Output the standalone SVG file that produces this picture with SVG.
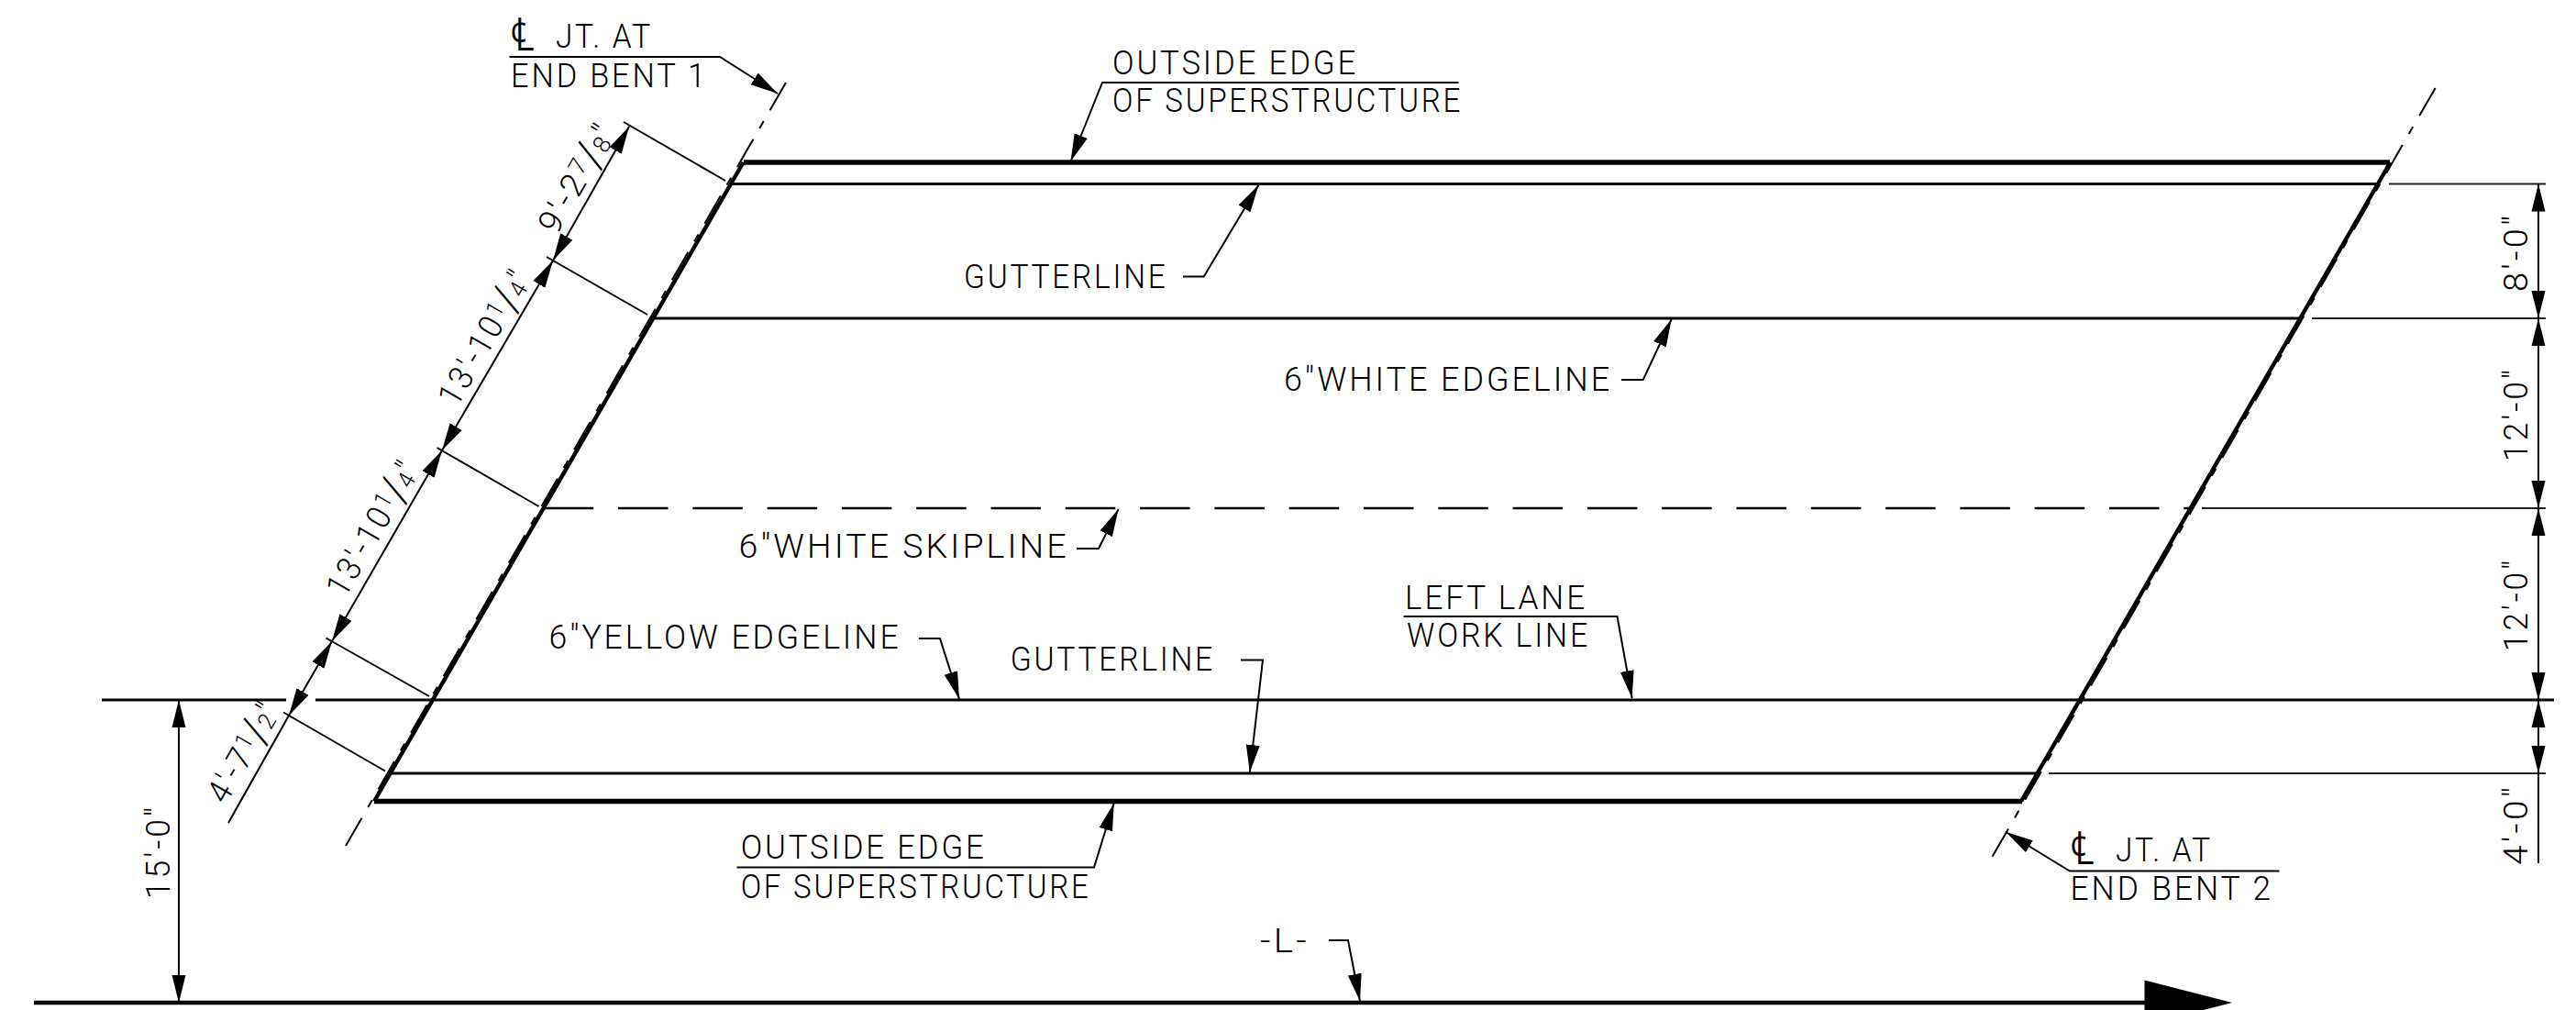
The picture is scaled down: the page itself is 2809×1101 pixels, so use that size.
<svg xmlns="http://www.w3.org/2000/svg" width="2809" height="1101" viewBox="0 0 2809 1101">
<style>
text{font-family:"Roboto","Liberation Sans",sans-serif;font-weight:300;font-size:36.5px;letter-spacing:3px;fill:#000}
.cl{font-family:"DejaVu Sans",sans-serif;font-weight:200;font-size:50px;letter-spacing:0}
.f{font-size:26px;letter-spacing:0}
.s{font-size:48px;letter-spacing:0}
line,polyline,path.l{fill:none;stroke:#000}
.t5{stroke-width:5.5}
.t3{stroke-width:3.2}
.t4{stroke-width:4.4}
.t2{stroke-width:2}
.ext{stroke-width:2.2;stroke:#222}
.ld{stroke-width:2;marker-end:url(#a)}
.dm{stroke-width:2;marker-start:url(#a);marker-end:url(#a)}
.sk{stroke-width:2.6;stroke-dasharray:54.5 26.8}
.ctr{stroke-width:2}
</style>
<defs>
<marker id="a" markerUnits="userSpaceOnUse" markerWidth="30" markerHeight="16" refX="24" refY="6" orient="auto-start-reverse" viewBox="0 0 24 12"><path d="M0,0 L24,6 L0,12 Z" fill="#000"/></marker>
</defs>

<g id="roadway">
<line class="t5" x1="811" y1="177" x2="2606" y2="177"/>
<line class="t3" x1="796" y1="200.5" x2="2595" y2="200.5"/>
<line class="t3" x1="711" y1="347" x2="2510" y2="347"/>
<line class="sk" x1="592.7" y1="554" x2="2390" y2="554"/>
<line class="t3" x1="111" y1="763" x2="312" y2="763"/>
<line class="t3" x1="344" y1="763" x2="2785" y2="763"/>
<line class="t3" x1="426" y1="843" x2="2222" y2="843"/>
<line class="t5" x1="408" y1="873.5" x2="2205" y2="873.5"/>
<line class="t4" x1="810.5" y1="177" x2="408" y2="873.5"/>
<line class="t4" x1="2606.5" y1="177" x2="2204" y2="873.5"/>
<line class="ctr" stroke-dasharray="35 13.6 9 13.6" x1="857" y1="90" x2="377" y2="922"/>
<line class="ctr" stroke-dasharray="35 13.85 9 13.85" x1="2655.6" y1="96" x2="2172.4" y2="934"/>
</g>

<g id="alignment">
<line class="t4" x1="37" y1="1093" x2="2340" y2="1093"/>
<path d="M2338.5,1068.5 L2434,1093 L2338.5,1117.5 Z" fill="#000"/>
</g>

<g id="connectors">
<line class="ext" x1="2605" y1="200.5" x2="2776" y2="200.5"/>
<line class="ext" x1="2521" y1="347" x2="2776" y2="347"/>
<line class="ext" x1="2401" y1="554" x2="2776" y2="554"/>
<line class="ext" x1="2234" y1="843" x2="2776" y2="843"/>
<line class="dm" x1="2768" y1="200.5" x2="2768" y2="347"/>
<line class="dm" x1="2768" y1="347" x2="2768" y2="554"/>
<line class="dm" x1="2768" y1="554" x2="2768" y2="763"/>
<line class="dm" x1="2768" y1="763" x2="2768" y2="843"/>
<line class="t2" x1="2768" y1="843" x2="2768" y2="941"/>
<line class="dm" x1="195" y1="763" x2="195" y2="1093"/>

<line class="t2" x1="680" y1="133" x2="791" y2="197"/>
<line class="t2" x1="596" y1="280" x2="706" y2="343"/>
<line class="t2" x1="476.5" y1="488" x2="587.5" y2="552"/>
<line class="t2" x1="355.5" y1="695.5" x2="468" y2="759"/>
<line class="t2" x1="309" y1="776.5" x2="420" y2="840.5"/>
<line class="dm" x1="686" y1="138" x2="603" y2="284"/>
<line class="dm" x1="603" y1="284" x2="482" y2="491"/>
<line class="dm" x1="482" y1="491" x2="362" y2="699"/>
<line class="dm" x1="362" y1="699" x2="315" y2="780"/>
<line class="t2" x1="315" y1="780" x2="249" y2="897"/>

<polyline class="ld" points="555.5,62 785,62 848,102"/>
<polyline class="ld" points="1590.5,90 1202,90 1167.5,176"/>
<polyline class="ld" points="1290,301.5 1312.7,301.5 1372.4,201.7"/>
<polyline class="ld" points="1768,414 1791.7,414 1822.7,348"/>
<polyline class="ld" points="1174,598 1198,598 1219.6,555"/>
<polyline class="ld" points="1002,696 1025,696 1046,762"/>
<polyline class="ld" points="1353,719.6 1377,719.6 1362.8,842"/>
<polyline class="ld" points="1530.5,672 1763.5,672 1779.6,761"/>
<polyline class="ld" points="803.5,945.5 1193,945.5 1214.7,875.5"/>
<polyline class="ld" points="1449,1025 1470,1025 1483,1091.5"/>
<polyline class="ld" points="2485.5,949.6 2257,949.6 2187.3,907"/>
</g>

<g id="label-cl-1"><text x="557" y="52"><tspan class="cl" dy="3" textLength="26" lengthAdjust="spacingAndGlyphs">℄</tspan><tspan x="595" dy="-3" textLength="117" lengthAdjust="spacingAndGlyphs"> JT. AT</tspan></text></g>
<g id="label-end-bent-1"><text x="557" y="95" textLength="215" lengthAdjust="spacingAndGlyphs">END BENT 1</text></g>
<g id="label-outside-top"><text x="1213" y="81" textLength="268" lengthAdjust="spacingAndGlyphs">OUTSIDE EDGE</text><text x="1213" y="122" textLength="382" lengthAdjust="spacingAndGlyphs">OF SUPERSTRUCTURE</text></g>
<g id="label-gutter-top"><text x="1051" y="314" textLength="222.5" lengthAdjust="spacingAndGlyphs">GUTTERLINE</text></g>
<g id="label-white-edge"><text x="1400" y="426" textLength="358" lengthAdjust="spacingAndGlyphs">6"WHITE EDGELINE</text></g>
<g id="label-skip"><text x="805.6" y="608" textLength="360" lengthAdjust="spacingAndGlyphs">6"WHITE SKIPLINE</text></g>
<g id="label-yellow"><text x="598.6" y="707" textLength="384" lengthAdjust="spacingAndGlyphs">6"YELLOW EDGELINE</text></g>
<g id="label-gutter-bottom"><text x="1101.7" y="731" textLength="223.3" lengthAdjust="spacingAndGlyphs">GUTTERLINE</text></g>
<g id="label-work-line"><text x="1532" y="663.5" textLength="199" lengthAdjust="spacingAndGlyphs">LEFT LANE</text><text x="1534" y="705" textLength="200" lengthAdjust="spacingAndGlyphs">WORK LINE</text></g>
<g id="label-outside-bottom"><text x="807.7" y="936" textLength="268" lengthAdjust="spacingAndGlyphs">OUTSIDE EDGE</text><text x="807.7" y="978.5" textLength="382" lengthAdjust="spacingAndGlyphs">OF SUPERSTRUCTURE</text></g>
<g id="label-l"><text x="1374" y="1038" textLength="54" lengthAdjust="spacingAndGlyphs">-L-</text></g>
<g id="label-cl-2"><text x="2258" y="939"><tspan class="cl" dy="3" textLength="26" lengthAdjust="spacingAndGlyphs">℄</tspan><tspan x="2296" dy="-3" textLength="117" lengthAdjust="spacingAndGlyphs"> JT. AT</tspan></text></g>
<g id="label-end-bent-2"><text x="2257.5" y="981" textLength="221.5" lengthAdjust="spacingAndGlyphs">END BENT 2</text></g>

<g id="dim-8ft"><text transform="translate(2756,318) rotate(-90)" textLength="86" lengthAdjust="spacingAndGlyphs">8'-0"</text></g>
<g id="dim-12ft-a"><text transform="translate(2756,503) rotate(-90)" textLength="103" lengthAdjust="spacingAndGlyphs">12'-0"</text></g>
<g id="dim-12ft-b"><text transform="translate(2756,710) rotate(-90)" textLength="102" lengthAdjust="spacingAndGlyphs">12'-0"</text></g>
<g id="dim-4ft"><text transform="translate(2756,943) rotate(-90)" textLength="88" lengthAdjust="spacingAndGlyphs">4'-0"</text></g>
<g id="dim-15ft"><text transform="translate(185,980) rotate(-90)" textLength="103" lengthAdjust="spacingAndGlyphs">15'-0"</text></g>

<g id="dim-skew-1"><text transform="translate(607,257) rotate(-60)" textLength="132" lengthAdjust="spacingAndGlyphs">9'-2<tspan class="f" dy="-9">7</tspan><tspan class="s" dy="13">/</tspan><tspan class="f" dy="-2">8</tspan><tspan dy="-2">"</tspan></text></g>
<g id="dim-skew-2"><text transform="translate(498,445) rotate(-60)" textLength="165" lengthAdjust="spacingAndGlyphs">13'-10<tspan class="f" dy="-9">1</tspan><tspan class="s" dy="13">/</tspan><tspan class="f" dy="-2">4</tspan><tspan dy="-2">"</tspan></text></g>
<g id="dim-skew-3"><text transform="translate(376,653) rotate(-60)" textLength="165" lengthAdjust="spacingAndGlyphs">13'-10<tspan class="f" dy="-9">1</tspan><tspan class="s" dy="13">/</tspan><tspan class="f" dy="-2">4</tspan><tspan dy="-2">"</tspan></text></g>
<g id="dim-skew-4"><text transform="translate(246,878) rotate(-60)" textLength="121" lengthAdjust="spacingAndGlyphs">4'-7<tspan class="f" dy="-9">1</tspan><tspan class="s" dy="13">/</tspan><tspan class="f" dy="-2">2</tspan><tspan dy="-2">"</tspan></text></g>
</svg>
